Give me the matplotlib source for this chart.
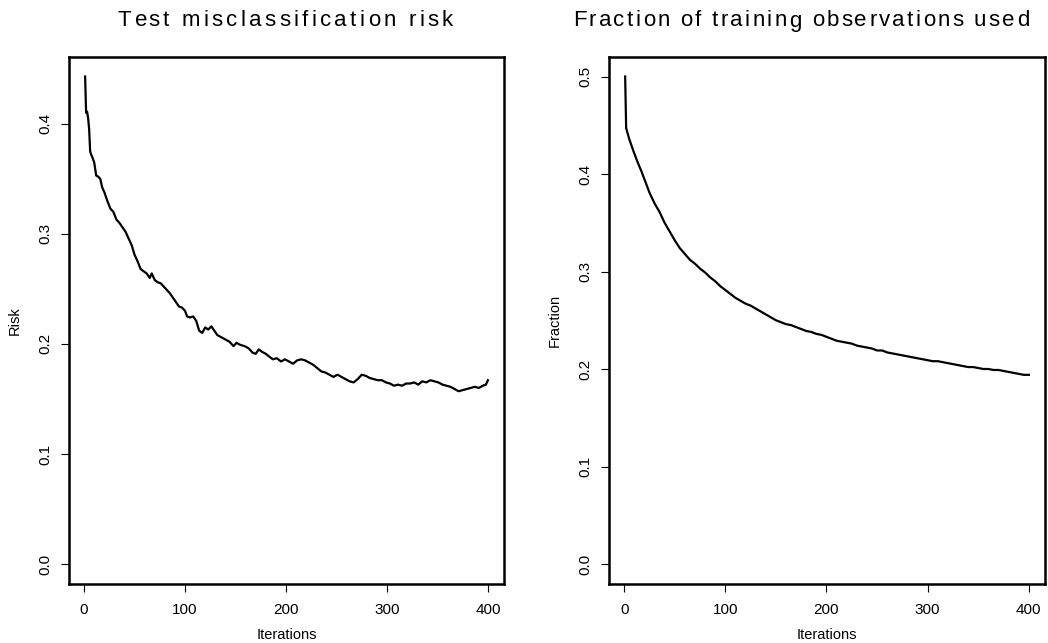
import matplotlib
matplotlib.use("Agg")
import matplotlib.pyplot as plt
from matplotlib.font_manager import FontProperties

plt.rcParams['font.family'] = ['Liberation Sans', 'DejaVu Sans']

# ---- data ----
risk_iter = [1, 2, 3, 4, 5, 6, 7, 8, 10, 12, 14, 16, 18, 20, 23, 26, 29, 32, 35, 38,
             41, 44, 47, 50, 53, 56, 59, 62, 65, 67, 70, 73, 76, 79, 82, 85, 88, 91, 94, 97,
             100, 102, 105, 108, 111, 114, 117, 120, 123, 126, 129, 132, 136, 140, 144, 148,
             151, 155, 159, 163, 167, 170, 173, 176, 180, 184, 187, 191, 195, 199, 203, 207,
             211, 215, 219, 223, 227, 231, 235, 239, 243, 247, 251, 255, 259, 263, 267, 271,
             275, 279, 283, 287, 291, 295, 299, 303, 307, 311, 315, 319, 323, 327, 331, 335,
             339, 343, 347, 351, 355, 359, 363, 367, 371, 375, 379, 383, 387, 391, 395, 398, 400]
risk_vals = [0.443, 0.410, 0.411, 0.405, 0.395, 0.375, 0.372, 0.370, 0.365, 0.353, 0.352, 0.350,
             0.342, 0.338, 0.330, 0.323, 0.320, 0.313, 0.310, 0.306, 0.302, 0.296, 0.290, 0.281,
             0.275, 0.268, 0.266, 0.264, 0.260, 0.264, 0.258, 0.256, 0.255, 0.252, 0.249, 0.246,
             0.242, 0.238, 0.234, 0.233, 0.230, 0.225, 0.224, 0.225, 0.221, 0.212, 0.210, 0.215,
             0.213, 0.216, 0.212, 0.208, 0.206, 0.204, 0.202, 0.198, 0.201, 0.199, 0.198, 0.196,
             0.192, 0.191, 0.195, 0.193, 0.191, 0.188, 0.186, 0.187, 0.184, 0.186, 0.184, 0.182,
             0.185, 0.186, 0.185, 0.183, 0.181, 0.178, 0.175, 0.174, 0.172, 0.170, 0.172, 0.170,
             0.168, 0.166, 0.165, 0.168, 0.172, 0.171, 0.169, 0.168, 0.167, 0.167, 0.165, 0.164,
             0.162, 0.163, 0.162, 0.164, 0.164, 0.165, 0.163, 0.166, 0.165, 0.167, 0.166, 0.165,
             0.163, 0.162, 0.161, 0.159, 0.157, 0.158, 0.159, 0.160, 0.161, 0.160, 0.162, 0.163, 0.167]

frac_iter = [1, 2, 5, 9, 13, 17, 21, 25, 30, 35, 40, 45, 50, 55, 60, 65, 70, 75, 80, 85, 90,
             95, 100, 105, 110, 115, 120, 125, 130, 135, 140, 145, 150, 155, 160, 165, 170,
             175, 180, 185, 190, 195, 200, 205, 210, 215, 220, 225, 230, 235, 240, 245, 250,
             255, 260, 265, 270, 275, 280, 285, 290, 295, 300, 305, 310, 315, 320, 325, 330,
             335, 340, 345, 350, 355, 360, 365, 370, 375, 380, 385, 390, 395, 400]
frac_vals = [0.500, 0.447, 0.436, 0.424, 0.413, 0.403, 0.392, 0.381, 0.370, 0.361, 0.350, 0.341,
             0.332, 0.324, 0.318, 0.312, 0.308, 0.303, 0.299, 0.294, 0.290, 0.285, 0.281, 0.277,
             0.273, 0.270, 0.267, 0.265, 0.262, 0.259, 0.256, 0.253, 0.250, 0.248, 0.246, 0.245,
             0.243, 0.241, 0.239, 0.238, 0.236, 0.235, 0.233, 0.231, 0.229, 0.228, 0.227, 0.226,
             0.224, 0.223, 0.222, 0.221, 0.219, 0.219, 0.217, 0.216, 0.215, 0.214, 0.213, 0.212,
             0.211, 0.210, 0.209, 0.208, 0.208, 0.207, 0.206, 0.205, 0.204, 0.203, 0.202, 0.202,
             0.201, 0.200, 0.200, 0.199, 0.199, 0.198, 0.197, 0.196, 0.195, 0.194, 0.194]

titles = ["Test misclassification risk", "Fraction of training observations used"]
ylabels = ["Risk", "Fraction"]
xlabel = "Iterations"
xticks = [0, 100, 200, 300, 400]
yticks = [[0.0, 0.1, 0.2, 0.3, 0.4], [0.0, 0.1, 0.2, 0.3, 0.4, 0.5]]

W, H = 1048, 643
fig = plt.figure(figsize=(W / 100, H / 100), dpi=100)
renderer = fig.canvas.get_renderer()

boxes = [(69, 504), (609, 1045)]
# title pixel extents (left, right) as seen in the reference
title_spans = [(118, 453), (573, 1029)]
top_px, bot_px = 57, 583.5


def r_lim(lo, hi):
    d = (hi - lo) * 0.04
    return lo - d, hi + d


def spaced_title(text, x0, x1, y_px, size):
    fp = FontProperties(family=['Liberation Sans'], size=size)
    def w(s):
        if not s:
            return 0.0
        return renderer.get_text_width_height_descent(s, fp, ismath=False)[0]
    full = w(text)
    n = len(text)
    extra = ((x1 - x0) - full) / max(n - 1, 1)
    for i, ch in enumerate(text):
        if ch == ' ':
            continue
        xp = x0 + w(text[:i]) + extra * i
        fig.text(xp / W, 1 - y_px / H, ch, ha='left', va='center',
                 fontproperties=fp)


series = [(risk_iter, risk_vals, (0.0, max(risk_vals))),
          (frac_iter, frac_vals, (0.0, max(frac_vals)))]

for k, ((l, r), (xs, ys, yr)) in enumerate(zip(boxes, series)):
    ax = fig.add_axes([l / W, 1 - bot_px / H, (r - l) / W, (bot_px - top_px) / H])
    ax.plot(xs, ys, color='black', lw=1.6)
    ax.set_xlim(*r_lim(1, 400))
    ax.set_ylim(*r_lim(*yr))
    ax.set_xticks(xticks)
    ax.set_xticklabels([str(t) for t in xticks], fontsize=11)
    ax.set_yticks(yticks[k])
    ax.set_yticklabels([f"{t:.1f}" for t in yticks[k]], fontsize=11, rotation=90, va='center')
    ax.tick_params(direction='out', length=6, width=0.8)
    ax.tick_params(axis='x', pad=8)
    ax.tick_params(axis='y', pad=6)
    for s in ax.spines.values():
        s.set_linewidth(1.8)
    ax.set_xlabel(xlabel, fontsize=10.5, labelpad=8)
    ax.set_ylabel(ylabels[k], fontsize=10.5, labelpad=12)
    spaced_title(titles[k], title_spans[k][0], title_spans[k][1], 21, 16)

fig.savefig("out.png", dpi=100)
